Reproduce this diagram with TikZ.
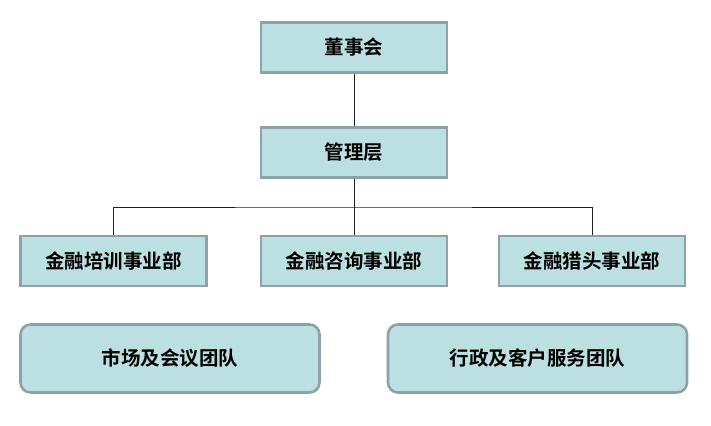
\documentclass[tikz,border=0pt]{standalone}
\usepackage{fontspec}
\newfontfamily\cjk{Noto Sans CJK SC}[BoldFont={Noto Sans CJK SC Bold}]
\definecolor{boxfill}{HTML}{BCDFE1}
\definecolor{boxedge}{HTML}{8CA3A5}
\definecolor{linec}{HTML}{202020}
\begin{document}
\begin{tikzpicture}[x=1pt,y=-1pt,
  box/.style={draw=boxedge,line width=2.6pt,fill=boxfill,minimum width=186pt,minimum height=50pt,inner sep=0pt,font=\cjk\bfseries\fontsize{19.5}{22}\selectfont},
  rbox/.style={box,rounded corners=10pt,minimum width=299pt,minimum height=68pt},
  conn/.style={draw=linec,line width=0.9pt}]
\useasboundingbox (0,0) rectangle (711,425);
\node[box] (dsh) at (354,47.5) {董事会};
\node[box] (glc) at (354,152.5) {管理层};
\node[box] (px) at (113.5,261) {金融培训事业部};
\node[box] (zx) at (354,261) {金融咨询事业部};
\node[box] (lt) at (592,261) {金融猎头事业部};
\node[rbox] (sc) at (170,358.5) {市场及会议团队};
\node[rbox] (xz) at (537.5,358.5) {行政及客户服务团队};
\coordinate (j) at (354,207);
\draw[conn] (dsh.south) -- (glc.north);
\draw[conn] (glc.south) -- (zx.north);
\draw[conn] (px.north) |- (j) -| (lt.north);
\end{tikzpicture}
\end{document}
